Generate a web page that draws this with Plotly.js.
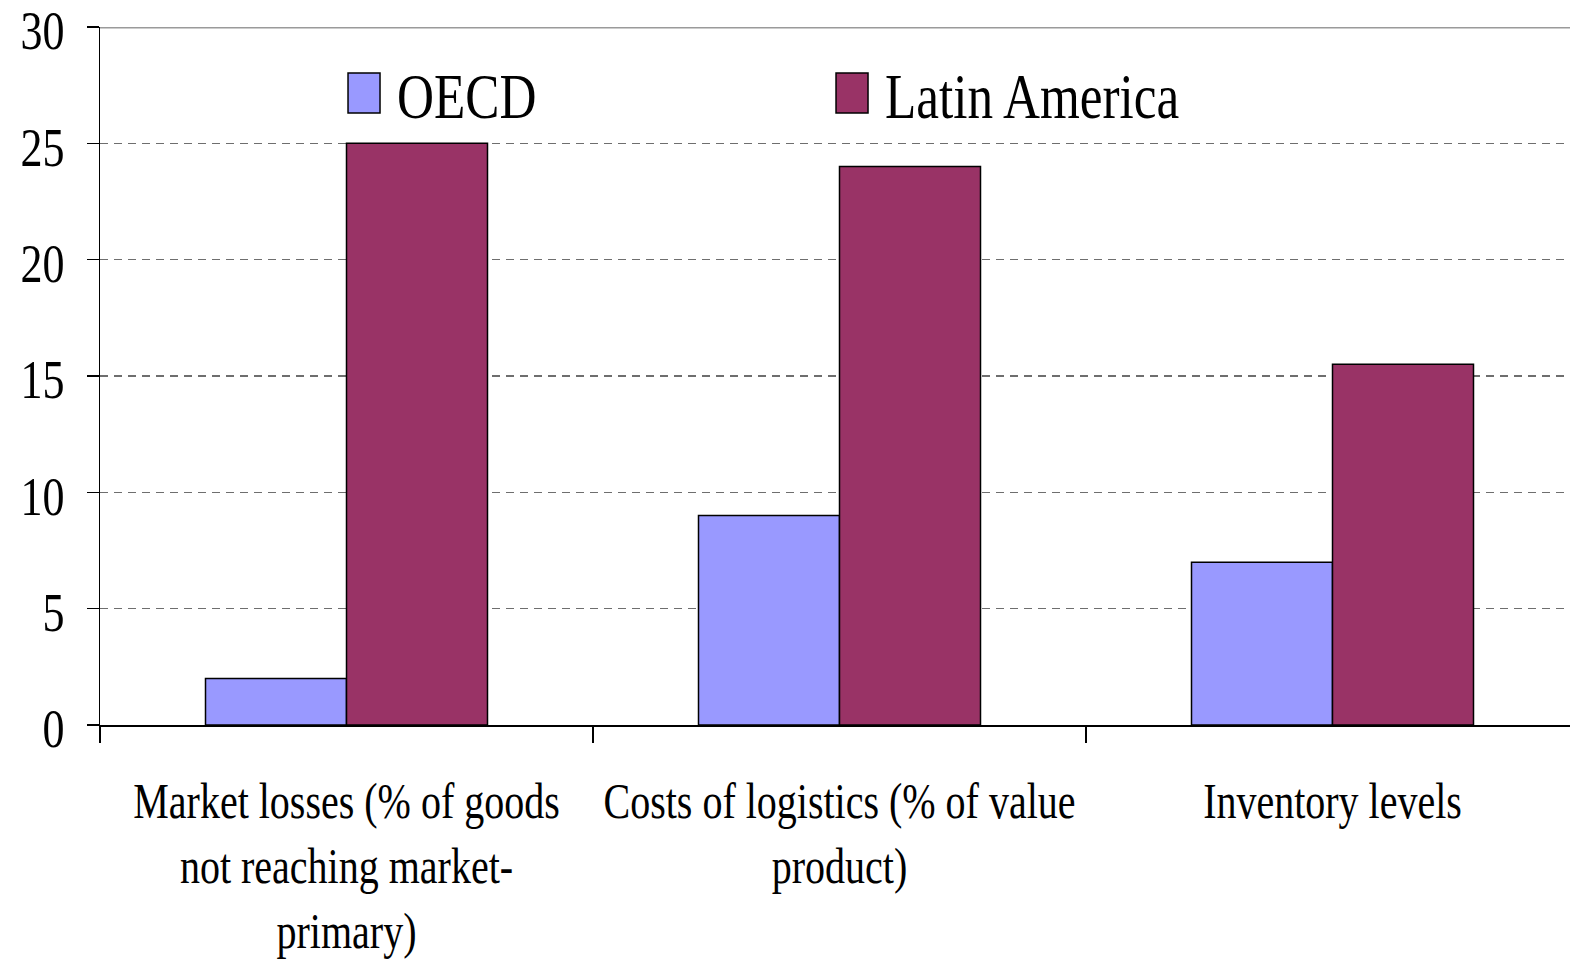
<!DOCTYPE html>
<html>
<head>
<meta charset="utf-8">
<script src="https://cdn.plot.ly/plotly-3.0.1.min.js"></script>
<style>
html,body{margin:0;padding:0;background:#fff;}
#chart{width:1570px;height:959px;}
</style>
</head>
<body>
<div id="chart"></div>
<script>
const categories = [
  "Market losses (% of goods<br>not reaching market-<br>primary)",
  "Costs of logistics (% of value<br>product)",
  "Inventory levels"
];
const seriesNames = ["OECD", "Latin America"];
const oecdValues = [2, 9, 7];
const latinAmericaValues = [25, 24, 15.5];
const yTickValues = [0, 5, 10, 15, 20, 25, 30];

const FONT = "'Liberation Serif', 'Times New Roman', serif";
const SQUEEZE = 0.8;

const traces = [
  {
    type: "bar", name: seriesNames[0], x: categories, y: oecdValues,
    marker: {color: "#9999FF", line: {color: "#000", width: 1.5}},
    hoverinfo: "skip"
  },
  {
    type: "bar", name: seriesNames[1], x: categories, y: latinAmericaValues,
    marker: {color: "#993366", line: {color: "#000", width: 1.5}},
    hoverinfo: "skip"
  }
];

const layout = {
  width: 1570, height: 959,
  margin: {l: 100, r: 0, t: 27, b: 234},
  paper_bgcolor: "#fff", plot_bgcolor: "#fff",
  barmode: "group",
  bargap: 0.428, bargroupgap: 0,
  font: {family: FONT, color: "#000"},
  showlegend: true,
  legend: {
    orientation: "h", x: 0.166, y: 0.905, xanchor: "left", yanchor: "middle",
    font: {family: FONT, size: 64, color: "#000"},
    entrywidth: 443, entrywidthmode: "pixels",
    bgcolor: "rgba(0,0,0,0)", borderwidth: 0
  },
  xaxis: {
    type: "category",
    range: [-0.5, -0.5 + 1470 / 493],
    showline: true, linecolor: "#000", linewidth: 1.5,
    ticks: "outside", tickson: "boundaries", ticklen: 16, tickwidth: 1.2, tickcolor: "#000",
    tickfont: {family: FONT, size: 50, color: "#000"},
    tickangle: 0,
    ticklabelstandoff: 32,
    ticklabeloverflow: "allow",
    showgrid: false, zeroline: false, fixedrange: true
  },
  yaxis: {
    range: [0, 30],
    tickvals: yTickValues, ticktext: yTickValues.map(String),
    showline: true, linecolor: "#000", linewidth: 1.5,
    ticks: "outside", ticklen: 12, tickwidth: 1.2, tickcolor: "#000",
    tickfont: {family: FONT, size: 55, color: "#000"},
    ticklabelstandoff: 11,
    ticklabeloverflow: "allow",
    showgrid: true, gridcolor: "#6e6e6e", gridwidth: 1.3, griddash: "8px,6px",
    zeroline: false, fixedrange: true
  },
  shapes: [
    {type: "line", xref: "paper", x0: 0, x1: 1, yref: "y", y0: 30, y1: 30,
     line: {color: "#9a9a9a", width: 3}, layer: "above"}
  ]
};

function squeeze(el, dy) {
  const x = parseFloat(el.getAttribute("x")) || 0;
  const t = el.getAttribute("transform") || "";
  el.setAttribute("transform", t + " translate(" + x + "," + (dy || 0) + ") scale(" + SQUEEZE + ",1) translate(" + (-x) + ",0)");
}

Plotly.newPlot("chart", traces, layout, {staticPlot: true, displayModeBar: false}).then(function(gd){
  gd.querySelectorAll(".legend .traces .legendpoints path").forEach(function(p){
    p.setAttribute("d", "M-16,-20H16V20H-16Z");
  });
  gd.querySelectorAll(".legend .traces text.legendtext").forEach(function(t){
    t.setAttribute("x", "53");
    t.querySelectorAll("tspan").forEach(function(s){ if (s.getAttribute("x")) s.setAttribute("x", "53"); });
    squeeze(t, 0);
  });
  gd.querySelectorAll(".xtick text").forEach(function(t){ squeeze(t, 0); });
  gd.querySelectorAll(".ytick text").forEach(function(t){ squeeze(t, 3); });
});
</script>
</body>
</html>
